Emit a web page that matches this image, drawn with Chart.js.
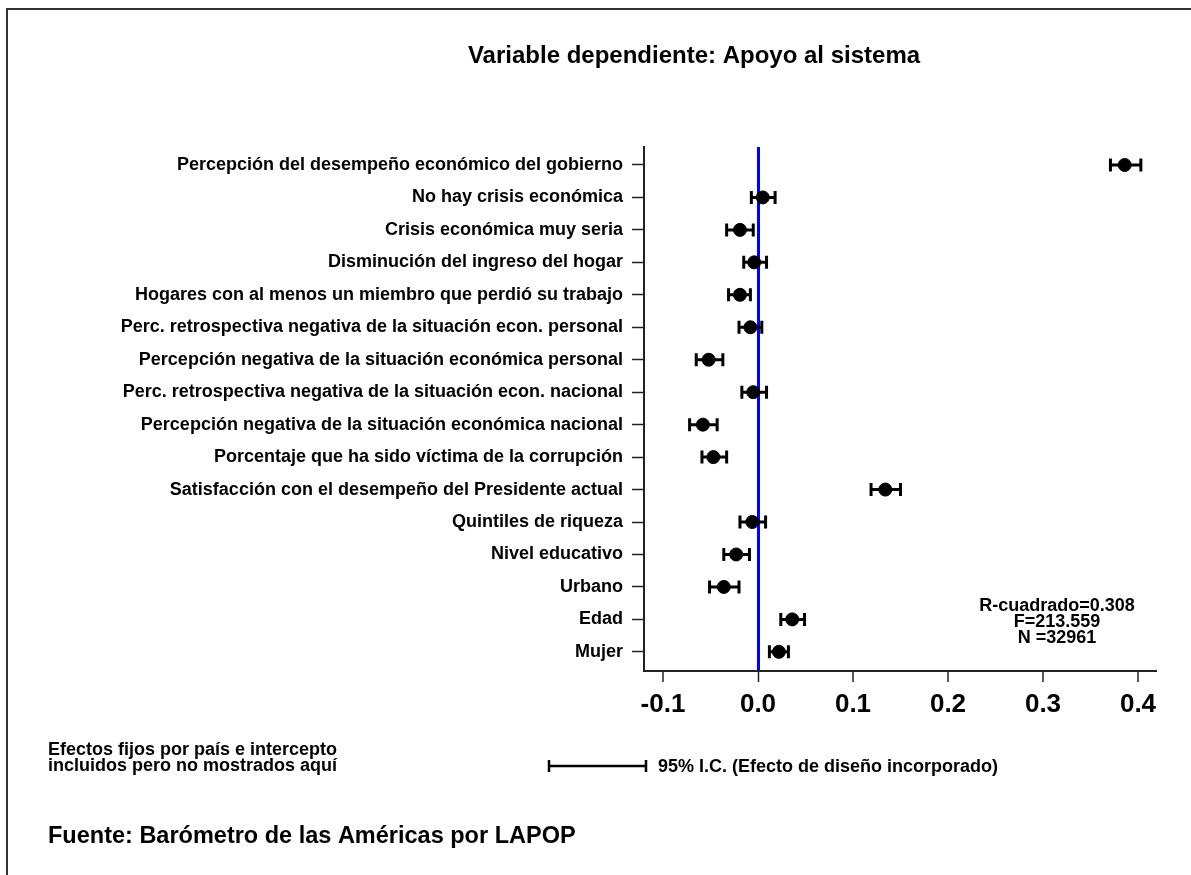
<!DOCTYPE html>
<html>
<head>
<meta charset="utf-8">
<script src="https://cdn.jsdelivr.net/npm/chart.js@4/dist/chart.umd.min.js"></script>
<style>
  body { margin: 0; background: #fff; }
  #wrap { width: 1191px; height: 875px; position: relative; }
</style>
</head>
<body>
<div id="wrap"><canvas id="coefChart"></canvas></div>
<script>
// Variables (de arriba a abajo)
var categories = [
  'Percepción del desempeño económico del gobierno',
  'No hay crisis económica',
  'Crisis económica muy seria',
  'Disminución del ingreso del hogar',
  'Hogares con al menos un miembro que perdió su trabajo',
  'Perc. retrospectiva negativa de la situación econ. personal',
  'Percepción negativa de la situación económica personal',
  'Perc. retrospectiva negativa de la situación econ. nacional',
  'Percepción negativa de la situación económica nacional',
  'Porcentaje que ha sido víctima de la corrupción',
  'Satisfacción con el desempeño del Presidente actual',
  'Quintiles de riqueza',
  'Nivel educativo',
  'Urbano',
  'Edad',
  'Mujer'
]
var coef  = [0.386, 0.005, -0.019, -0.004, -0.019, -0.008, -0.052, -0.005, -0.058, -0.047, 0.134, -0.006, -0.023, -0.036, 0.036, 0.022]
var ciLow = [0.371, -0.007, -0.033, -0.015, -0.031, -0.020, -0.065, -0.017, -0.072, -0.059, 0.119, -0.019, -0.036, -0.051, 0.024, 0.012]
var ciHigh = [0.403, 0.018, -0.005, 0.009, -0.008, 0.004, -0.037, 0.009, -0.043, -0.033, 0.150, 0.008, -0.009, -0.020, 0.049, 0.032]

var xTickValues = [-0.1, 0.0, 0.1, 0.2, 0.3, 0.4]
var xTickLabels = ['-0.1', '0.0', '0.1', '0.2', '0.3', '0.4']

var titleText = 'Variable dependiente: Apoyo al sistema'
var statsText = ['R-cuadrado=0.308', 'F=213.559', 'N =32961']
var noteText = ['Efectos fijos por país e intercepto', 'incluidos pero no mostrados aquí']
var legendText = '95% I.C. (Efecto de diseño incorporado)'
var sourceText = 'Fuente: Barómetro de las Américas por LAPOP'

var FONT = '"Liberation Sans", Arial, sans-serif'

var points = coef.map((c, i) => ({ x: c, y: i + 1 }))

// Barras de error y textos
var extras = {
  id: 'extras',
  beforeDatasetsDraw(chart) {
    var ctx = chart.ctx
    var xs = chart.scales.x, ys = chart.scales.y
    ctx.save()
    ctx.strokeStyle = '#000'
    ctx.lineWidth = 3
    for (var i = 0; i < coef.length; i++) {
      var y = ys.getPixelForValue(i + 1)
      var x1 = xs.getPixelForValue(ciLow[i])
      var x2 = xs.getPixelForValue(ciHigh[i])
      ctx.beginPath()
      ctx.moveTo(x1, y); ctx.lineTo(x2, y)
      ctx.moveTo(x1, y - 6.5); ctx.lineTo(x1, y + 6.5)
      ctx.moveTo(x2, y - 6.5); ctx.lineTo(x2, y + 6.5)
      ctx.stroke()
    }
    ctx.restore()
  },
  afterDraw(chart) {
    var ctx = chart.ctx
    ctx.save()
    // marco
    ctx.strokeStyle = '#333'
    ctx.lineWidth = 2
    ctx.beginPath()
    ctx.moveTo(7, 875); ctx.lineTo(7, 9); ctx.lineTo(1191, 9)
    ctx.stroke()

    ctx.fillStyle = '#000'
    ctx.textBaseline = 'middle'
    ctx.textAlign = 'center'
    ctx.font = 'bold 24px ' + FONT
    ctx.fillText(titleText, 694, 56)

    ctx.font = 'bold 18px ' + FONT
    statsText.forEach((t, i) => ctx.fillText(t, 1057, 606 + i * 16))

    ctx.textAlign = 'left'
    noteText.forEach((t, i) => ctx.fillText(t, 48, 750 + i * 16))

    ctx.strokeStyle = '#000'
    ctx.lineWidth = 2.5
    ctx.beginPath()
    ctx.moveTo(549, 766); ctx.lineTo(646, 766)
    ctx.moveTo(549, 760); ctx.lineTo(549, 772)
    ctx.moveTo(646, 760); ctx.lineTo(646, 772)
    ctx.stroke()
    ctx.fillText(legendText, 658, 767)

    ctx.font = 'bold 23.5px ' + FONT
    ctx.fillText(sourceText, 48, 837)
    ctx.restore()
  }
}

var coefChart = new Chart(document.getElementById('coefChart'), {
  type: 'scatter',
  data: {
    datasets: [
      {
        label: 'Coeficiente',
        data: points,
        backgroundColor: '#000',
        borderColor: '#000',
        pointRadius: 6.5,
        pointHoverRadius: 6.5
      }
    ]
  },
  options: {
    responsive: true,
    maintainAspectRatio: false,
    animation: false,
    layout: { padding: { top: 147, right: 34, bottom: 0, left: 0 } },
    plugins: {
      legend: { display: false },
      tooltip: { enabled: false }
    },
    scales: {
      x: {
        type: 'linear',
        min: -0.12,
        max: 0.42,
        afterBuildTicks: (scale) => { scale.ticks = xTickValues.map(v => ({ value: v })) },
        afterFit: (scale) => { scale.height = 204 },
        ticks: {
          callback: (v) => xTickLabels[xTickValues.indexOf(v)],
          font: { family: FONT, size: 26, weight: 'bold' },
          color: '#000',
          padding: 7,
          maxRotation: 0
        },
        grid: {
          color: (c) => (c.tick && c.tick.value === 0) ? '#0000ff' : 'rgba(0,0,0,0)',
          lineWidth: (c) => (c.tick && c.tick.value === 0) ? 3 : 0,
          tickColor: '#222',
          tickWidth: 1.5,
          tickLength: 11
        },
        border: { color: '#222', width: 2 }
      },
      y: {
        type: 'linear',
        reverse: true,
        min: 0.446,
        max: 16.59,
        afterBuildTicks: (scale) => { scale.ticks = categories.map((c, i) => ({ value: i + 1 })) },
        afterFit: (scale) => { scale.width = 644 },
        ticks: {
          callback: (v) => categories[v - 1],
          font: { family: FONT, size: 18, weight: 'bold' },
          color: '#000',
          padding: 9,
          autoSkip: false
        },
        grid: {
          drawOnChartArea: false,
          tickColor: '#222',
          tickWidth: 1.5,
          tickLength: 12
        },
        border: { color: '#222', width: 2 }
      }
    }
  },
  plugins: [extras]
});
</script>
</body>
</html>
